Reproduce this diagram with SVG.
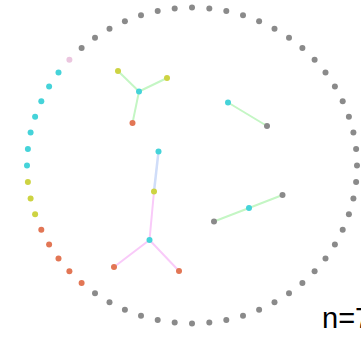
<svg xmlns="http://www.w3.org/2000/svg" width="361" height="337" viewBox="0 0 361 337">
<style>
.n circle{r:3}
.g{fill:#8a8a8a}
.c{fill:#45d3d9}
.y{fill:#cdd342}
.o{fill:#e27654}
.p{fill:#ebc6df}
.eg{stroke:#c4f6c4;stroke-width:2;fill:none}
.eb{stroke:#d0ddf9;stroke-width:2.5;fill:none}
.ep{stroke:#f9caf9;stroke-width:2;fill:none}
text{font-family:"Liberation Sans",Arial,sans-serif;font-size:29px;fill:#000}
</style>
<defs><filter id="b" x="-10%" y="-10%" width="120%" height="120%"><feGaussianBlur stdDeviation="0.75"/></filter></defs>
<g id="connectors" filter="url(#b)">
<line class="eg" x1="139" y1="91.5" x2="118" y2="71"/>
<line class="eg" x1="139" y1="91.5" x2="167" y2="78"/>
<line class="eg" x1="139" y1="91.5" x2="132.5" y2="123"/>
<line class="eg" x1="228" y1="102.5" x2="267" y2="126"/>
<line class="eb" x1="158.5" y1="151.5" x2="154" y2="191.5"/>
<line class="ep" x1="154" y1="191.5" x2="149.5" y2="240"/>
<line class="ep" x1="149.5" y1="240" x2="114" y2="267"/>
<line class="ep" x1="149.5" y1="240" x2="179" y2="271"/>
<line class="eg" x1="214" y1="221.5" x2="249" y2="208"/>
<line class="eg" x1="249" y1="208" x2="282.5" y2="195"/>
</g>
<g id="nodes" filter="url(#b)">
<g id="a1" class="n"><circle class="c" cx="139" cy="91.5"/></g>
<g id="a2" class="n"><circle class="y" cx="118" cy="71"/></g>
<g id="a3" class="n"><circle class="y" cx="167" cy="78"/></g>
<g id="a4" class="n"><circle class="o" cx="132.5" cy="123"/></g>
<g id="b1" class="n"><circle class="c" cx="228" cy="102.5"/></g>
<g id="b2" class="n"><circle class="g" cx="267" cy="126"/></g>
<g id="c1" class="n"><circle class="c" cx="158.5" cy="151.5"/></g>
<g id="c2" class="n"><circle class="y" cx="154" cy="191.5"/></g>
<g id="c3" class="n"><circle class="c" cx="149.5" cy="240"/></g>
<g id="c4" class="n"><circle class="o" cx="114" cy="267"/></g>
<g id="c5" class="n"><circle class="o" cx="179" cy="271"/></g>
<g id="d1" class="n"><circle class="g" cx="214" cy="221.5"/></g>
<g id="d2" class="n"><circle class="c" cx="249" cy="208"/></g>
<g id="d3" class="n"><circle class="g" cx="282.5" cy="195"/></g>
<g id="r0" class="n"><circle class="g" cx="357" cy="165.5"/></g>
<g id="r6" class="n"><circle class="g" cx="356.1" cy="182"/></g>
<g id="r12" class="n"><circle class="g" cx="353.4" cy="198.4"/></g>
<g id="r18" class="n"><circle class="g" cx="348.9" cy="214.3"/></g>
<g id="r24" class="n"><circle class="g" cx="342.7" cy="229.8"/></g>
<g id="r30" class="n"><circle class="g" cx="334.9" cy="244.5"/></g>
<g id="r36" class="n"><circle class="g" cx="325.5" cy="258.4"/></g>
<g id="r42" class="n"><circle class="g" cx="314.6" cy="271.2"/></g>
<g id="r48" class="n"><circle class="g" cx="302.4" cy="282.9"/></g>
<g id="r54" class="n"><circle class="g" cx="289" cy="293.3"/></g>
<g id="r60" class="n"><circle class="g" cx="274.5" cy="302.3"/></g>
<g id="r66" class="n"><circle class="g" cx="259.1" cy="309.8"/></g>
<g id="r72" class="n"><circle class="g" cx="243" cy="315.8"/></g>
<g id="r78" class="n"><circle class="g" cx="226.3" cy="320.1"/></g>
<g id="r84" class="n"><circle class="g" cx="209.3" cy="322.6"/></g>
<g id="r90" class="n"><circle class="g" cx="192" cy="323.5"/></g>
<g id="r96" class="n"><circle class="g" cx="174.7" cy="322.6"/></g>
<g id="r102" class="n"><circle class="g" cx="157.7" cy="320.1"/></g>
<g id="r108" class="n"><circle class="g" cx="141" cy="315.8"/></g>
<g id="r114" class="n"><circle class="g" cx="124.9" cy="309.8"/></g>
<g id="r120" class="n"><circle class="g" cx="109.5" cy="302.3"/></g>
<g id="r126" class="n"><circle class="g" cx="95" cy="293.3"/></g>
<g id="r132" class="n"><circle class="o" cx="81.6" cy="282.9"/></g>
<g id="r138" class="n"><circle class="o" cx="69.4" cy="271.2"/></g>
<g id="r144" class="n"><circle class="o" cx="58.5" cy="258.4"/></g>
<g id="r150" class="n"><circle class="o" cx="49.1" cy="244.5"/></g>
<g id="r156" class="n"><circle class="o" cx="41.3" cy="229.8"/></g>
<g id="r162" class="n"><circle class="y" cx="35.1" cy="214.3"/></g>
<g id="r168" class="n"><circle class="y" cx="30.6" cy="198.4"/></g>
<g id="r174" class="n"><circle class="y" cx="27.9" cy="182"/></g>
<g id="r180" class="n"><circle class="c" cx="27" cy="165.5"/></g>
<g id="r186" class="n"><circle class="c" cx="27.9" cy="149"/></g>
<g id="r192" class="n"><circle class="c" cx="30.6" cy="132.6"/></g>
<g id="r198" class="n"><circle class="c" cx="35.1" cy="116.7"/></g>
<g id="r204" class="n"><circle class="c" cx="41.3" cy="101.2"/></g>
<g id="r210" class="n"><circle class="c" cx="49.1" cy="86.5"/></g>
<g id="r216" class="n"><circle class="c" cx="58.5" cy="72.6"/></g>
<g id="r222" class="n"><circle class="p" cx="69.4" cy="59.8"/></g>
<g id="r228" class="n"><circle class="g" cx="81.6" cy="48.1"/></g>
<g id="r234" class="n"><circle class="g" cx="95" cy="37.7"/></g>
<g id="r240" class="n"><circle class="g" cx="109.5" cy="28.7"/></g>
<g id="r246" class="n"><circle class="g" cx="124.9" cy="21.2"/></g>
<g id="r252" class="n"><circle class="g" cx="141" cy="15.2"/></g>
<g id="r258" class="n"><circle class="g" cx="157.7" cy="10.9"/></g>
<g id="r264" class="n"><circle class="g" cx="174.7" cy="8.4"/></g>
<g id="r270" class="n"><circle class="g" cx="192" cy="7.5"/></g>
<g id="r276" class="n"><circle class="g" cx="209.3" cy="8.4"/></g>
<g id="r282" class="n"><circle class="g" cx="226.3" cy="10.9"/></g>
<g id="r288" class="n"><circle class="g" cx="243" cy="15.2"/></g>
<g id="r294" class="n"><circle class="g" cx="259.1" cy="21.2"/></g>
<g id="r300" class="n"><circle class="g" cx="274.5" cy="28.7"/></g>
<g id="r306" class="n"><circle class="g" cx="289" cy="37.7"/></g>
<g id="r312" class="n"><circle class="g" cx="302.4" cy="48.1"/></g>
<g id="r318" class="n"><circle class="g" cx="314.6" cy="59.8"/></g>
<g id="r324" class="n"><circle class="g" cx="325.5" cy="72.6"/></g>
<g id="r330" class="n"><circle class="g" cx="334.9" cy="86.5"/></g>
<g id="r336" class="n"><circle class="g" cx="342.7" cy="101.2"/></g>
<g id="r342" class="n"><circle class="g" cx="348.9" cy="116.7"/></g>
<g id="r348" class="n"><circle class="g" cx="353.4" cy="132.6"/></g>
<g id="r354" class="n"><circle class="g" cx="356.1" cy="149"/></g>
</g>
<text x="322" y="328">n=7</text>
</svg>
